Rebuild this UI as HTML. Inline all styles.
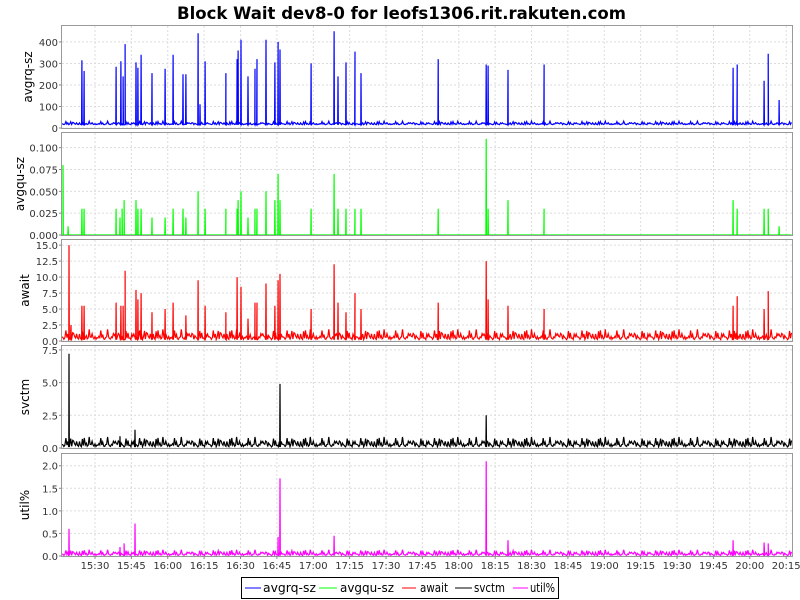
<!DOCTYPE html>
<html><head><meta charset="utf-8"><style>
body{margin:0;background:#fff;font-family:"DejaVu Sans",sans-serif}
svg{display:block}
</style></head><body>
<svg id="c" width="800" height="600" xmlns="http://www.w3.org/2000/svg" font-family="DejaVu Sans, sans-serif">
<text x="177" y="19" textLength="449" lengthAdjust="spacingAndGlyphs" font-size="17" font-weight="bold" fill="#000">Block Wait dev8-0 for leofs1306.rit.rakuten.com</text>
<g id="legend">
<rect x="241.5" y="577.5" width="317" height="21" fill="#fff" stroke="#000"/>
<g><line x1="245" y1="588" x2="261" y2="588" stroke="#0000ff"/><text x="263" y="592" font-size="12" textLength="53" lengthAdjust="spacingAndGlyphs">avgrq-sz</text></g>
<g><line x1="319" y1="588" x2="337" y2="588" stroke="#00ff00"/><text x="340" y="592" font-size="12" textLength="54" lengthAdjust="spacingAndGlyphs">avgqu-sz</text></g>
<g><line x1="402" y1="588" x2="416" y2="588" stroke="#ff0000"/><text x="420" y="592" font-size="12" textLength="28" lengthAdjust="spacingAndGlyphs">await</text></g>
<g><line x1="455" y1="588" x2="472" y2="588" stroke="#000"/><text x="474" y="592" font-size="12" textLength="31" lengthAdjust="spacingAndGlyphs">svctm</text></g>
<g><line x1="513" y1="588" x2="528" y2="588" stroke="#ff00ff"/><text x="530" y="592" font-size="12" textLength="25" lengthAdjust="spacingAndGlyphs">util%</text></g>
</g>
</svg>
<script>
// time in minutes since 15:00
const xTickLabels=["15:30","15:45","16:00","16:15","16:30","16:45","17:00","17:15","17:30","17:45","18:00","18:15","18:30","18:45","19:00","19:15","19:30","19:45","20:00","20:15"];
const xTickMinutes=[30,45,60,75,90,105,120,135,150,165,180,195,210,225,240,255,270,285,300,315];
const jitter=[0.4,0.9,0.2,0.6,1.0,0.3,0.7,0.1,0.5,0.8,0.2,0.6,0.9,0.4,0.3,1.0,0.5,0.2,0.7,0.6,0.1,0.8,0.4,0.9,0.3,0.5,0.7,0.2,1.0,0.6,0.3,0.8,0.5,0.1,0.7,0.4,0.9,0.2,0.6,0.3,0.8,0.5,1.0,0.2,0.4,0.7,0.3,0.9,0.6,0.1,0.5,0.8,0.2,0.7,0.4,1.0,0.3,0.6,0.9,0.5,0.2,0.7,0.35,0.85,0.15,0.55,0.95,0.25,0.65,0.45,0.75,0.05,0.6,0.3,0.9,0.4];
const avgrqTimes=[24.6,25.5,38.7,40.7,41.6,42.4,46.9,47.7,49.0,53.5,58.9,62.2,66.3,67.5,72.5,73.3,75.4,84.0,88.6,89.0,90.2,93.1,96.0,96.8,100.5,104.2,105.5,106.3,119.1,128.6,130.2,133.5,137.2,139.7,171.5,191.3,192.1,200.3,215.2,293.1,294.8,305.9,307.6,312.1];
const avgrqValues=[315,265,285,310,240,390,305,280,340,255,275,340,250,250,440,110,310,255,320,360,410,240,275,320,410,305,400,365,300,450,240,305,355,255,320,295,290,270,295,280,295,220,345,130];
const avgquTimes=[16.8,18.9,24.6,25.5,38.7,40.3,41.2,42.0,46.9,47.7,49.0,53.5,58.9,62.2,66.3,67.5,72.5,75.4,84.0,88.6,89.0,90.2,93.1,96.0,96.8,100.5,104.2,105.5,106.3,119.1,128.6,130.2,133.5,137.2,139.7,171.5,191.3,192.1,200.3,215.2,293.1,294.8,305.9,307.6,312.1];
const avgquValues=[0.08,0.01,0.03,0.03,0.03,0.02,0.03,0.04,0.04,0.03,0.03,0.02,0.02,0.03,0.03,0.02,0.05,0.03,0.03,0.03,0.04,0.05,0.02,0.03,0.03,0.05,0.04,0.07,0.04,0.03,0.07,0.03,0.03,0.03,0.03,0.03,0.11,0.03,0.04,0.03,0.04,0.03,0.03,0.03,0.01];
const awaitTimes=[19.3,20.1,24.6,25.5,38.7,40.7,41.6,42.4,46.9,47.7,49.0,53.5,58.9,62.2,67.5,72.5,75.4,84.0,88.6,90.2,93.1,96.0,96.8,100.5,104.2,105.5,106.3,119.1,128.6,130.2,133.5,137.2,139.7,171.5,191.3,192.1,200.3,215.2,293.1,294.8,305.9,307.6];
const awaitValues=[15,2.5,5.5,5.5,6,5.5,5.5,11,8,6.5,7.5,4.5,5,6,4,9.5,5.5,4.5,10,8.5,3.5,6,6,9,5.5,9.5,10.5,5,12,6,4.5,7.5,5,6,12.5,6.5,5.5,5,5.5,7,5,7.8];
const svctmTimes=[19.3,40.3,46.5,106.3,191.3];
const svctmValues=[7.2,0.9,1.4,4.9,2.5];
const utilTimes=[19.3,46.5,40.3,42.0,105.5,106.3,128.6,191.3,200.3,293.1,305.9,307.6];
const utilValues=[0.6,0.72,0.2,0.28,0.42,1.72,0.45,2.1,0.35,0.35,0.3,0.28];
const series=[
 {name:"avgrq-sz",color:"#0000ff",top:26,bottom:128,max:474,base:15,amp:14,tx:28,ticks:[0,100,200,300,400],fmt:v=>String(v),times:avgrqTimes,vals:avgrqValues},
 {name:"avgqu-sz",color:"#00ff00",top:133,bottom:235,max:0.1168,base:0,amp:0,tx:20,ticks:[0,0.025,0.05,0.075,0.1],fmt:v=>v.toFixed(3),times:avgquTimes,vals:avgquValues},
 {name:"await",color:"#ff0000",top:240,bottom:341,max:15.8,base:0.2,amp:1.4,tx:25,ticks:[0,2.5,5,7.5,10,12.5,15],fmt:v=>v.toFixed(1),times:awaitTimes,vals:awaitValues},
 {name:"svctm",color:"#000000",top:346,bottom:448,max:7.8,base:0.08,amp:0.65,tx:25,ticks:[0,2.5,5,7.5],fmt:v=>v.toFixed(1),times:svctmTimes,vals:svctmValues},
 {name:"util%",color:"#ff00ff",top:454,bottom:556,max:2.26,base:0.01,amp:0.11,tx:25,ticks:[0,0.5,1,1.5,2],fmt:v=>v.toFixed(1),times:utilTimes,vals:utilValues}
];
const L=62,R=792,T0=16.4,T1=317.4;
const NS="http://www.w3.org/2000/svg";
const svg=document.getElementById('c');
function xs(t){return L+(t-T0)/(T1-T0)*(R-L);}
function mk(tag,attrs,parent){const e=document.createElementNS(NS,tag);for(const k in attrs)e.setAttribute(k,attrs[k]);(parent||svg).appendChild(e);return e;}
series.forEach((s,si)=>{
 const ys=v=>s.bottom-v/s.max*(s.bottom-s.top);
 const g=mk('g',{});
 
 
 mk('rect',{x:L,y:s.top,width:R-L,height:s.bottom-s.top,fill:'#fff'},g);
 xTickMinutes.forEach(m=>{const x=xs(m);mk('line',{x1:x,x2:x,y1:s.top,y2:s.bottom,stroke:'#dcdcdc','stroke-dasharray':'2,2'},g);});
 s.ticks.forEach(v=>{const y=ys(v);
  mk('line',{x1:L,x2:R,y1:y,y2:y,stroke:'#dcdcdc','stroke-dasharray':'2,2'},g);
  mk('line',{x1:L-3,x2:L,y1:y,y2:y,stroke:'#888'},g);
  const t=mk('text',{x:L-4,y:y+4,'text-anchor':'end','font-size':'10',fill:'#333'},g);t.textContent=s.fmt(v);
  
  
 });
 const cy=(s.top+s.bottom)/2;
 const yt=mk('text',{x:s.tx+4,y:cy,'text-anchor':'middle','font-size':'12',fill:'#000',transform:`rotate(-90 ${s.tx+4} ${cy})`},g);yt.textContent=s.name;
 
 
 const pts=[];
 let i=0;
 for(let t=T0;t<=T1;t+=0.4){const j=jitter[i%jitter.length];const j2=jitter[(i*7+3)%jitter.length];pts.push([t,s.base+s.amp*j*j2*1.3]);i++;}
 s.times.forEach((t,k)=>{pts.push([t-0.12,s.base]);pts.push([t,s.vals[k]]);pts.push([t+0.12,s.base]);});
 pts.sort((a,b)=>a[0]-b[0]);
 const d=pts.map((p,k)=>(k?'L':'M')+xs(p[0]).toFixed(1)+','+ys(Math.min(p[1],s.max)).toFixed(1)).join('');
 const path=mk('path',{d:d,fill:'none',stroke:s.color,'stroke-width':'1.2'},g);
 
 
 mk('rect',{x:L-0.5,y:s.top-0.5,width:R-L+1,height:s.bottom-s.top+1,fill:'none',stroke:'#999'},g);
});
xTickMinutes.forEach((m,k)=>{const x=xs(m);
 mk('line',{x1:x,x2:x,y1:556,y2:559,stroke:'#888'});
 const t=mk('text',{x:x,y:569,'text-anchor':'middle','font-size':'10',fill:'#333'});t.textContent=xTickLabels[k];
 
 
});
svg.appendChild(document.getElementById('legend'));
</script>
</body></html>
